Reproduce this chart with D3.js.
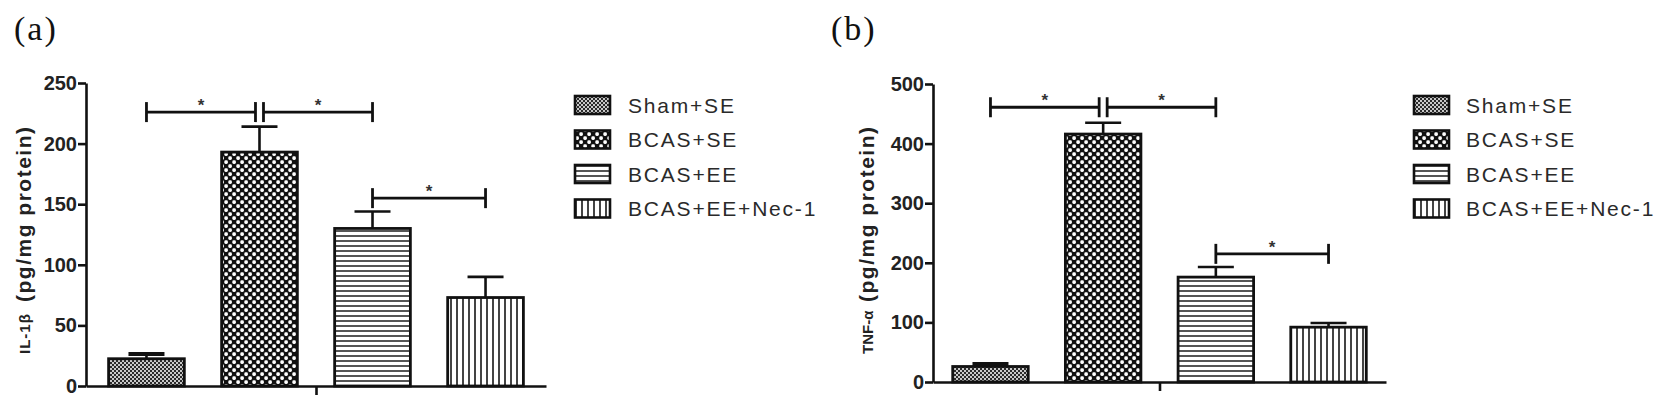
<!DOCTYPE html>
<html>
<head>
<meta charset="utf-8">
<script src="https://cdn.jsdelivr.net/npm/d3@7"></script>
<style>
    body { margin: 0; background: #fff; }
    .tick text { font-family: "Liberation Sans", Arial, sans-serif; font-weight: bold; font-size: 20px; fill: #222; }
    .tick line, .domain { stroke: #111; stroke-width: 2.6px; }
</style>
</head>
<body>
<div id="container"></div>
<script>
// groups and values
const groups = ['Sham+SE', 'BCAS+SE', 'BCAS+EE', 'BCAS+EE+Nec-1'];
const patternIds = ['pSham', 'pBcasSe', 'pBcasEe', 'pNec'];

const il1bMean = [22.5, 193, 130, 73];
const il1bSem = [4, 21, 14, 17];
const il1bTicks = [0, 50, 100, 150, 200, 250];
// [from group, to group, height in data units]
const il1bSig = [[0, 1, 226], [1, 2, 226], [2, 3, 155]];

const tnfMean = [26, 416, 176, 92];
const tnfSem = [4, 19, 17, 7];
const tnfTicks = [0, 100, 200, 300, 400, 500];
const tnfSig = [[0, 1, 461], [1, 2, 461], [2, 3, 215]];

const svg = d3.select('#container').append('svg')
    .attr('width', 1668)
    .attr('height', 404);

// hatch patterns
const defs = svg.append('defs');
function addPattern(id, w, h, draw) {
    const p = defs.append('pattern')
        .attr('id', id)
        .attr('patternUnits', 'userSpaceOnUse')
        .attr('width', w)
        .attr('height', h);
    draw(p);
}
addPattern('pSham', 4, 4, p => {
    p.append('rect').attr('width', 4).attr('height', 4).attr('fill', '#c8c8c8');
    p.append('rect').attr('width', 2).attr('height', 2).attr('fill', '#2a2a2a');
    p.append('rect').attr('x', 2).attr('y', 2).attr('width', 2).attr('height', 2).attr('fill', '#2a2a2a');
});
addPattern('pBcasSe', 8, 8, p => {
    p.append('rect').attr('width', 8).attr('height', 8).attr('fill', '#111');
    p.append('rect').attr('x', 0.3).attr('y', 0.3).attr('width', 3.6).attr('height', 3.6).attr('rx', 1.4).attr('fill', '#fff');
    p.append('rect').attr('x', 4.3).attr('y', 4.3).attr('width', 3.6).attr('height', 3.6).attr('rx', 1.4).attr('fill', '#fff');
});
addPattern('pBcasEe', 5, 5, p => {
    p.append('rect').attr('width', 5).attr('height', 5).attr('fill', '#fff');
    p.append('rect').attr('width', 5).attr('height', 2).attr('fill', '#555');
});
addPattern('pNec', 6, 6, p => {
    p.append('rect').attr('width', 6).attr('height', 6).attr('fill', '#fff');
    p.append('rect').attr('width', 2).attr('height', 6).attr('fill', '#444');
});

function drawPanel(cfg) {
    const g = svg.append('g');
    const x = d3.scaleBand()
        .domain(groups)
        .range(cfg.xRange)
        .paddingInner(0.33)
        .paddingOuter(cfg.outer);
    const y = d3.scaleLinear()
        .domain([0, cfg.ticks[cfg.ticks.length - 1]])
        .range(cfg.yRange);

    // panel letter
    g.append('text')
        .attr('x', cfg.letterX)
        .attr('y', 40)
        .attr('font-family', '"Liberation Serif", "Times New Roman", serif')
        .attr('font-size', 34)
        .attr('letter-spacing', 2)
        .attr('fill', '#111')
        .text(cfg.letter);

    // bars
    g.append('g')
        .selectAll('rect')
        .data(cfg.mean)
        .enter()
        .append('rect')
        .attr('x', (d, i) => x(groups[i]))
        .attr('y', d => y(d))
        .attr('width', x.bandwidth())
        .attr('height', d => y(0) - y(d))
        .attr('fill', (d, i) => `url(#${patternIds[i]})`)
        .attr('stroke', '#111')
        .attr('stroke-width', 2.8);

    // error bars (upper only)
    const err = g.append('g')
        .attr('stroke', '#111')
        .attr('stroke-width', 2.6);
    cfg.mean.forEach((m, i) => {
        const cx = x(groups[i]) + x.bandwidth() / 2;
        const top = y(m + cfg.sem[i]);
        err.append('line')
            .attr('x1', cx).attr('x2', cx)
            .attr('y1', y(m)).attr('y2', top);
        err.append('line')
            .attr('x1', cx - 18).attr('x2', cx + 18)
            .attr('y1', top).attr('y2', top)
            .attr('stroke-width', cfg.sem[i] < 5 ? 4 : 2.6);
    });

    // axes
    g.append('g')
        .attr('transform', `translate(${cfg.xRange[0]},0)`)
        .call(d3.axisLeft(y).tickValues(cfg.ticks).tickSize(8).tickPadding(1).tickSizeOuter(0));
    const xLine = d3.scaleLinear().domain([0, 1]).range(cfg.xRange);
    g.append('g')
        .attr('transform', `translate(0,${y(0)})`)
        .call(d3.axisBottom(xLine).tickValues([0.5]).tickFormat('').tickSize(9).tickSizeOuter(0));

    // y label
    const lab = g.append('g')
        .attr('transform', `translate(${cfg.labelX},0) rotate(-90)`)
        .attr('font-family', '"Liberation Sans", Arial, sans-serif')
        .attr('font-weight', 'bold')
        .attr('fill', '#222');
    lab.append('text')
        .attr('x', -354)
        .attr('y', 6)
        .attr('font-size', 15)
        .attr('letter-spacing', cfg.nameSpacing)
        .text(cfg.name);
    lab.append('text')
        .attr('x', -302)
        .attr('y', 7)
        .attr('font-size', 21)
        .attr('letter-spacing', 1.5)
        .text('(pg/mg protein)');

    // significance brackets
    const sig = g.append('g')
        .attr('stroke', '#111')
        .attr('stroke-width', 2.8);
    cfg.sig.forEach(([a, b, h]) => {
        const shareLeft = cfg.sig.some(s => s[1] === a && s[2] === h);
        const shareRight = cfg.sig.some(s => s[0] === b && s[2] === h);
        const x1 = x(groups[a]) + x.bandwidth() / 2 + (shareLeft ? 4 : 0);
        const x2 = x(groups[b]) + x.bandwidth() / 2 - (shareRight ? 4 : 0);
        const yy = y(h);
        sig.append('line').attr('x1', x1).attr('x2', x2).attr('y1', yy).attr('y2', yy);
        sig.append('line').attr('x1', x1).attr('x2', x1).attr('y1', yy - 10).attr('y2', yy + 10);
        sig.append('line').attr('x1', x2).attr('x2', x2).attr('y1', yy - 10).attr('y2', yy + 10);
        g.append('text')
            .attr('x', (x1 + x2) / 2)
            .attr('y', yy - 1)
            .attr('text-anchor', 'middle')
            .attr('font-family', '"Liberation Sans", Arial, sans-serif')
            .attr('font-weight', 'bold')
            .attr('font-size', 17)
            .attr('fill', '#333')
            .text('*');
    });

    // legend
    const leg = g.append('g')
        .attr('transform', `translate(${cfg.legendX},0)`);
    groups.forEach((name, i) => {
        const cy = 105 + i * 34.5;
        leg.append('rect')
            .attr('x', 0)
            .attr('y', cy - 9)
            .attr('width', 35)
            .attr('height', 18)
            .attr('fill', `url(#${patternIds[i]})`)
            .attr('stroke', '#111')
            .attr('stroke-width', 2.6);
        leg.append('text')
            .attr('x', cfg.legendTextDx)
            .attr('y', cy)
            .attr('dy', '0.36em')
            .attr('font-family', '"Liberation Sans", Arial, sans-serif')
            .attr('font-size', 21)
            .attr('letter-spacing', 1.8)
            .attr('fill', '#2a2a2a')
            .text(name);
    });
}

drawPanel({
    letter: '(a)', letterX: 14,
    name: 'IL-1β', nameSpacing: 1,
    mean: il1bMean, sem: il1bSem, ticks: il1bTicks, sig: il1bSig,
    xRange: [86, 546], outer: 0.2, yRange: [386, 83],
    labelX: 24, legendX: 575, legendTextDx: 53
});
drawPanel({
    letter: '(b)', letterX: 831,
    name: 'TNF-α', nameSpacing: 0,
    mean: tnfMean, sem: tnfSem, ticks: tnfTicks, sig: tnfSig,
    xRange: [933, 1386], outer: 0.175, yRange: [382, 84],
    labelX: 867, legendX: 1414, legendTextDx: 52
});
</script>
</body>
</html>
